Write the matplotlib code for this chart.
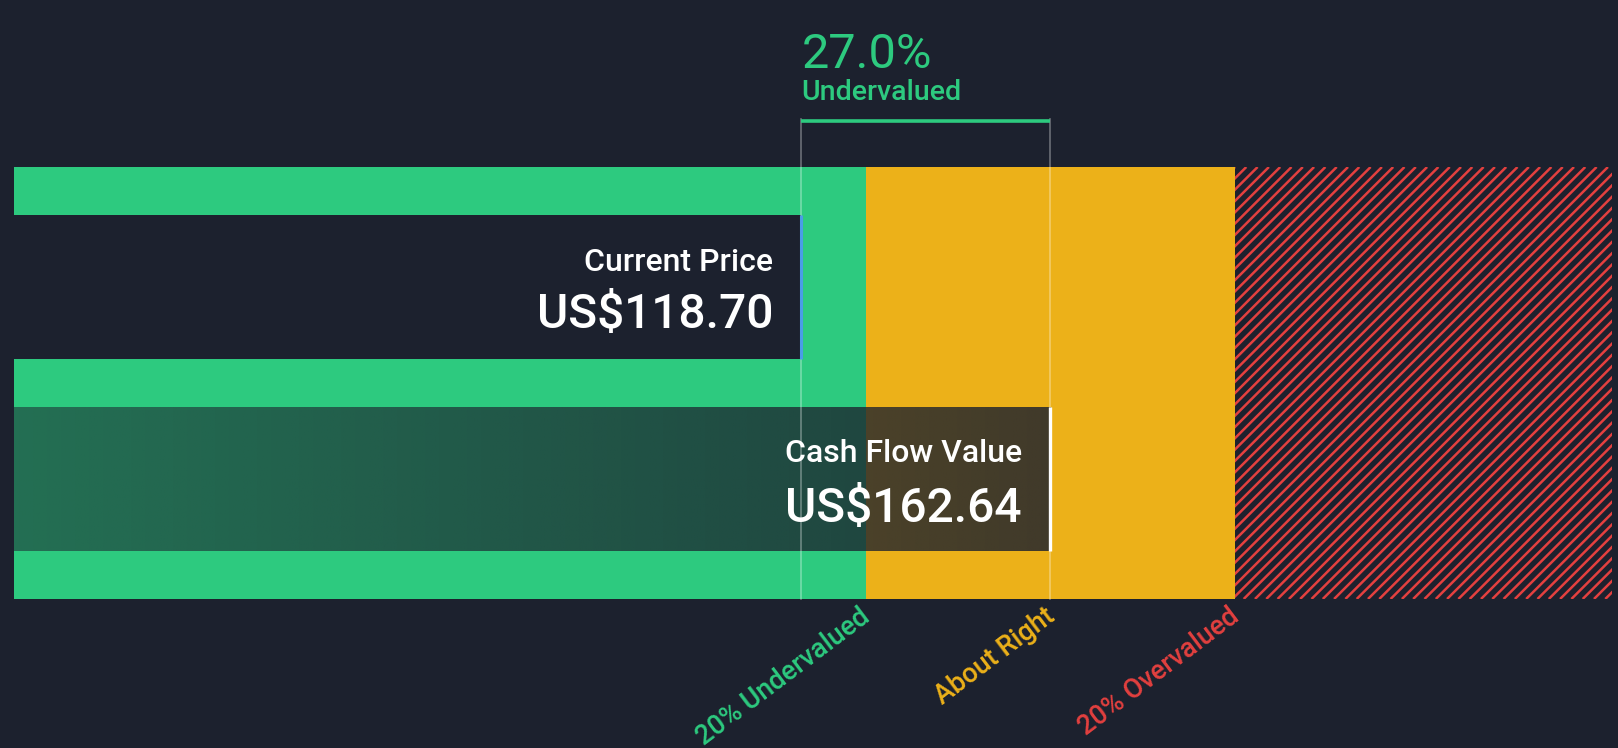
import numpy as np
import matplotlib
matplotlib.use("Agg")
import matplotlib.pyplot as plt
from matplotlib.patches import Rectangle
from matplotlib.collections import LineCollection

# values
current_price = 118.70
fair_value = 162.64
discount_pct = 27.0
zone_labels = ["20% Undervalued", "About Right", "20% Overvalued"]
zone_factors = [0.8, 1.0, 1.2]
chart_min = -20.1
chart_max = 261.6

BG = "#1c212e"
GREEN = "#2dca7f"
YELLOW = "#ecb119"
RED = "#e3403f"
BLUE = "#4a9de6"

plt.rcParams['font.family'] = ['Roboto', 'DejaVu Sans']

W, H = 1618, 748
fig = plt.figure(figsize=(W / 100, H / 100), dpi=100, facecolor=BG)
ax = fig.add_axes([0, 0, 1, 1])
ax.set_facecolor(BG)
ax.axis('off')

# x in US$, y in pixel rows
px_per_usd = 5.672
x0 = fair_value - 1050.5 / px_per_usd
ax.set_xlim(x0, x0 + W / px_per_usd)
ax.set_ylim(H, 0)

zone_top, zone_bot = 167, 599
under = fair_value * zone_factors[0]
over = fair_value * zone_factors[2]

# zones
ax.add_patch(Rectangle((chart_min, zone_top), under - chart_min, zone_bot - zone_top,
                       color=GREEN, lw=0))
ax.add_patch(Rectangle((under, zone_top), over - under, zone_bot - zone_top,
                       color=YELLOW, lw=0))
red_box = Rectangle((over, zone_top), chart_max - over, zone_bot - zone_top,
                    facecolor=BG, lw=0)
ax.add_patch(red_box)
h = zone_bot - zone_top
step = 11.3 / px_per_usd
offs = np.arange(over - h / px_per_usd, chart_max + step, step)
segs = [[(o, zone_bot), (o + h / px_per_usd, zone_top)] for o in offs]
lc = LineCollection(segs, colors=RED, linewidths=1.8)
ax.add_collection(lc, autolim=False)
lc.set_clip_path(red_box)

# current price bar
cp_top, cp_bot = 215, 359
ax.add_patch(Rectangle((chart_min, cp_top), current_price - chart_min, cp_bot - cp_top,
                       color=BG, lw=0))

# fair value bar, dark overlay getting denser to the right
fv_top, fv_bot = 407, 551
n = 400
rgba = np.zeros((1, n, 4))
rgba[..., :3] = matplotlib.colors.to_rgb(BG)
rgba[0, :, 3] = np.linspace(0.54, 0.83, n)
ax.imshow(rgba, extent=(chart_min, fair_value, fv_bot, fv_top), aspect='auto',
          interpolation='bilinear', zorder=3)

# guide lines and bracket
for v in [current_price, fair_value]:
    ax.plot([v, v], [119, zone_bot], color='white', alpha=0.35, lw=1.2, zorder=5)
ax.plot([current_price, fair_value], [120.5, 120.5], color=GREEN, lw=2.6,
        solid_capstyle='butt', zorder=6)
ax.plot([current_price, current_price], [cp_top, cp_bot], color=BLUE, lw=2.2,
        solid_capstyle='butt', zorder=6)
ax.plot([fair_value, fair_value], [fv_top, fv_bot], color='white', lw=2.4,
        solid_capstyle='butt', zorder=6)

ax.text(current_price, 68, f"{discount_pct:.1f}%", color=GREEN, fontsize=35,
        ha='left', va='baseline')
ax.text(current_price, 100, "Undervalued", color=GREEN, fontsize=20.5,
        fontweight='medium', ha='left', va='baseline')

# bar labels
tx_cp = current_price - 28 / px_per_usd
ax.text(tx_cp, 271, "Current Price", color='white', fontsize=23, fontweight='medium',
        ha='right', va='baseline', zorder=7)
ax.text(tx_cp, 328, f"US${current_price:.2f}", color='white', fontsize=34.5,
        fontweight='medium', ha='right', va='baseline', zorder=7)
tx_fv = fair_value - 28.5 / px_per_usd
ax.text(tx_fv, 462, "Cash Flow Value", color='white', fontsize=23, fontweight='medium',
        ha='right', va='baseline', zorder=7)
ax.text(tx_fv, 522, f"US${fair_value:.2f}", color='white', fontsize=34.5,
        fontweight='medium', ha='right', va='baseline', zorder=7)

# zone labels under the bar
for lab, f, c in zip(zone_labels, zone_factors, [GREEN, YELLOW, RED]):
    ax.text(fair_value * f - 7 / px_per_usd, 603, lab, color=c, fontsize=19.5,
            rotation=37, fontweight='medium', rotation_mode='anchor',
            ha='right', va='top')

fig.savefig("out.png", dpi=100, facecolor=BG)
